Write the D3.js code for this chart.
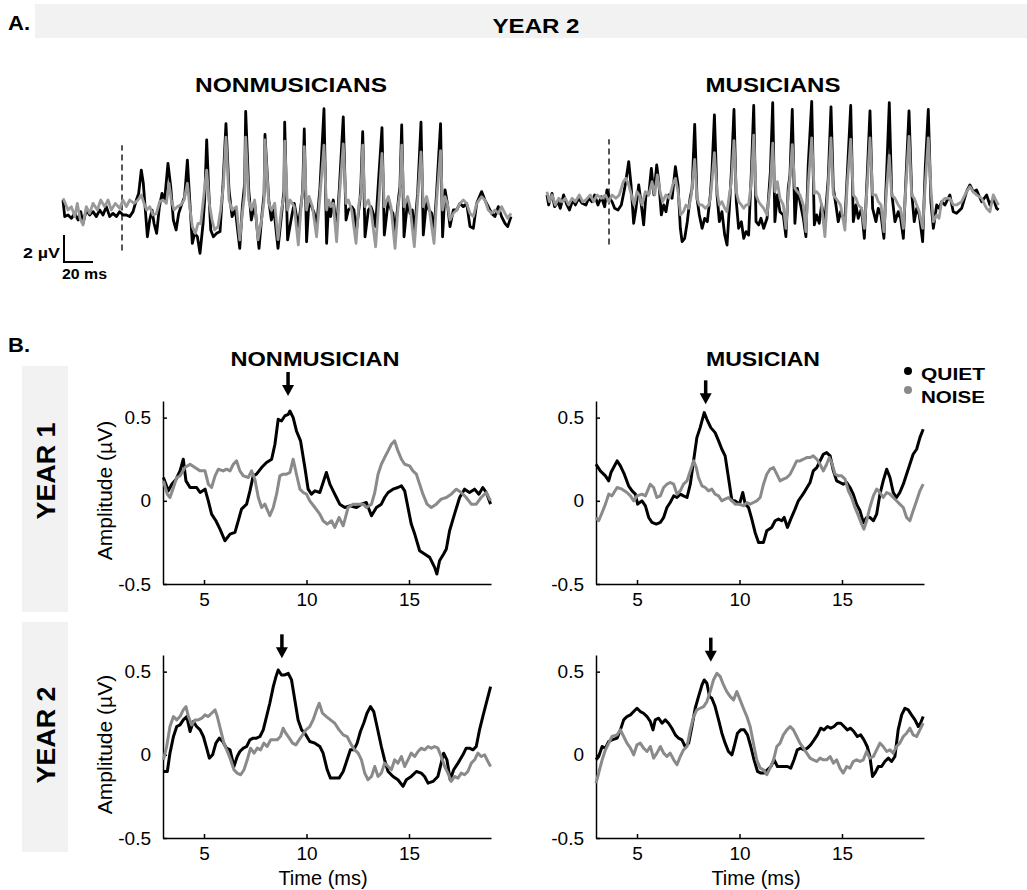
<!DOCTYPE html>
<html>
<head>
<meta charset="utf-8">
<script src="https://cdn.jsdelivr.net/npm/d3@7"></script>
<style>
  body { margin: 0; background: #fff; }
  svg { display: block; font-family: Arial, "Liberation Sans", sans-serif; }
</style>
</head>
<body>
<svg id="chart" width="1027" height="890"></svg>
<script>
// ---------- panel A: grand-average responses, [ms, uV] ----------
const nmQuietA = [[-40.7,0.74],[-39.5,-0.49],[-37.2,-0.37],[-34.9,-0.62],[-32.6,-0.25],[-30.3,-0.74],[-28.5,-0.12],[-26.9,-1.0],[-24.6,0],[-22.3,-0.37],[-20,-0.12],[-17.7,-0.49],[-15.4,0],[-13.1,-0.37],[-10.8,0.25],[-8.5,-0.49],[-6.2,-0.25],[-3.9,-0.49],[-1.6,-0.12],[0.7,-0.37],[3.0,-0.37],[5.3,-0.49],[7.6,-0.12],[9.9,0.74],[11.5,1.23],[13.3,2.96],[14.7,1.98],[16.1,0],[17.5,-1.98],[19.1,-0.74],[20.7,0],[22.1,-1.0],[23.9,-1.73],[25.8,0.25],[27.6,1.23],[29.4,0.74],[31.7,3.46],[33.6,1.73],[35.4,-0.74],[37.3,-1.48],[39.1,-0.25],[41.4,0.49],[43.2,0.99],[45.1,3.7],[46.7,0.74],[48.5,-2.47],[50.1,-1.73],[52,-1.98],[53.8,-3.21],[55.9,-1.0],[57,0.74],[58.4,5.2],
  [59.8,1.48],[61.2,-1.48],[63,-1.98],[65.3,-1.73],[67.6,-1.6],[69.7,1.98],[71.7,6.4],
  [73.8,1.48],[75.9,-0.49],[78.2,0],[81.2,-2.84],[83,0.25],[84.6,1.98],[85.3,7.3],
  [87.4,1.48],[89.2,-0.74],[91.5,0.49],[94.5,-2.84],[96.6,-0.25],[98,1.2],[98.6,5.6],
  [101.2,0.74],[103,-0.74],[104.8,0],[107.6,-2.84],[109.9,-0.49],[111.7,1.48],[112.2,6.5],
  [114.2,-2.22],[117,-0.49],[118.8,0.49],[121.6,-1.23],[123.9,0.74],[124.6,1.4],[125.7,6.0],
  [127.3,-2.35],[129,0.74],[130.8,0.25],[132.6,-0.25],[134.2,-1.23],[136.5,1.6],[139.3,7.5],
  [141.1,-2.47],[142.5,0.49],[143.9,-0.49],[145.7,0.74],[148,-1.48],[149.9,1.6],[152.6,6.9],
  [154.5,-0.74],[156.1,0],[158.4,0.25],[160,0],[161.4,-1.73],[164.1,0.74],[164.8,1.98],[166.0,5.8],
  [167.6,-1.98],[169.9,0],[171.7,0.25],[173.3,-0.25],[174.9,-1.23],[176.8,1.98],[179.3,6.1],
  [180.9,-1.85],[183.7,0.74],[185.5,0],[186.9,-0.25],[188.3,-1.73],[190.6,0.74],[191.7,1.73],[192.9,6.3],
  [194.5,-1.98],[197,0.74],[198.6,-0.25],[200.2,0],[201.6,-1.6],[203.9,1.23],[206.2,6.5],
  [207.8,-1.85],[210.1,0.74],[211.7,0],[213.6,-0.25],[215.2,-1.6],[217,1.36],[219.7,6.4],
  [221.1,-1.98],[222.8,1.48],[224.4,0.49],[226.2,-1.23],[228.5,0],[230.8,0],[233.1,0.49],[235.4,0.25],[237.7,0.49],[240,-1.23],[242.3,-1.36],[244.6,0.49],[248,1.36],[250.3,0.74],[252.6,0.25],[254.9,-0.25],[257.2,-0.49],[259.5,0.25],[261.8,-0.49],[264.1,-0.99],[266,-1.23],[268.3,-0.49]];

const nmNoiseA = [[-40.7,0.86],[-39.1,0.49],[-37.2,0],[-34.9,0.25],[-32.6,-0.49],[-30.8,0.49],[-29,-0.62],[-26.9,-1.11],[-24.6,0.25],[-22.3,-0.25],[-20,0.49],[-17,0],[-14.7,0.74],[-12,0.25],[-9.6,0.74],[-7.4,0],[-4.6,0.49],[-1.6,0.12],[0.7,0.74],[3.0,0.25],[5.3,0.74],[8.3,0.49],[11,0.74],[13.3,1.11],[15.2,0.49],[17,0],[19.1,0.25],[21.4,-0.37],[23.7,-0.25],[26,0.62],[28.3,0.74],[30.6,0.49],[32.4,1.98],[34,0.74],[35.9,0],[38.2,0.25],[40.5,0.37],[42.8,0.74],[45.1,1.98],[46.7,0.25],[48.5,-1.23],[50.6,-1.73],[52.4,-1.0],[54.3,-1.0],[56.1,0.74],[58.4,2.96],
  [60.2,0.49],[62.1,-0.74],[63.9,-1.48],[66.2,-1.23],[68,0],[69.9,1.73],[71.7,5.4],
  [73.8,0.74],[75.9,0],[78.9,0.25],[81.2,-2.22],[83,-0.25],[84.6,1.2],[85.3,5.4],
  [87.4,0.74],[89.2,0],[91.5,0.74],[93.8,-2.22],[96.6,-0.5],[98,0.74],[98.6,5.2],
  [101.2,0.5],[103,0],[105.3,0.5],[107.6,-2.2],[109.9,0],[111.7,1.0],[112.2,5.1],
  [114.2,0],[115.9,0.74],[118.8,0.25],[121.6,-2.59],[123.9,0.74],[124.8,1.48],[125.7,4.7],
  [127.3,0],[129,1.0],[131.3,0.25],[134.2,-1.98],[136.5,0.99],[139.3,4.8],
  [141.1,0],[142.5,0.74],[143.9,0.25],[145.7,0.5],[148,-2.35],[149.9,1.0],[152.6,4.9],
  [154.5,0.49],[156.1,0.74],[158.4,0],[161.4,-2.47],[163.4,0.49],[164.8,1.2],[166.0,4.8],
  [167.6,0.25],[169.9,0.74],[171.7,0],[174.9,-2.72],[177.2,0.74],[179.3,4.2],
  [180.9,0.25],[183.7,1.0],[185.5,0.25],[188.3,-2.84],[190.6,0.49],[191.7,1.2],[192.9,4.8],
  [194.5,0.25],[197,1.0],[198.6,0.25],[201.6,-2.72],[203.9,0.74],[206.2,4.3],
  [207.8,0.25],[210.1,1.0],[211.7,0.25],[215.2,-2.47],[217,0.74],[219.7,4.4],
  [221.1,0],[222.8,0.99],[224.4,0.49],[226.2,-0.74],[228.5,-0.25],[230.8,0],[233.1,0.49],[235.4,0.74],[237.7,0.49],[240,-0.25],[242.3,-0.49],[244.6,0.49],[248,0.99],[250.3,0.74],[252.6,0],[254.9,-0.25],[257.2,0],[259.5,-0.25],[261.8,0.25],[264.1,-0.25],[266,-0.62],[268.3,-0.25]];

const muQuietA = [[-42.8,0.67],[-41.6,-0.07],[-39.3,0.79],[-37.5,-0.2],[-35.2,0.17],[-33.6,-0.32],[-31.3,0.67],[-29,-0.07],[-27.3,-0.44],[-25,0.3],[-23.2,-0.07],[-20.9,0.42],[-18.6,0.05],[-15.9,-0.07],[-14,0.42],[-11.7,0.17],[-9.9,0.67],[-7.6,-0.07],[-5.3,0.54],[-3,-0.2],[-1.4,1.04],[0.5,0.42],[2.1,0.17],[3.9,-0.32],[6.2,-0.44],[8.5,-0.07],[10.8,1.16],[13.6,3.14],[15.2,1.41],[17,-1.43],[18.6,-0.32],[20.5,1.41],[22.3,-0.07],[23.9,-1.55],[25.5,0.67],[27.4,0.67],[29.2,2.64],[31,0.67],[32.9,2.89],[34.3,1.65],[36.1,-0.81],[37.7,-0.07],[39.3,-0.57],[41.2,0.67],[43.5,0.42],[45.8,2.77],[47.6,1.41],[49.2,-1.8],[50.4,-2.79],[52.2,-2.54],[54,-1.31],[55.9,0.42],[57.3,1.16],[59.1,5.9],
  [60.7,0.42],[62.3,-0.81],[64.2,-1.8],[66,-1.06],[67.8,-1.31],[69.9,0.67],[71,2.4],[72.7,6.6],
  [74.5,0.67],[76.1,-1.31],[77.9,-0.57],[79.8,-2.3],[81.4,-3.04],[83,-0.32],[84.4,2.4],[86.2,7.0],
  [87.8,0.17],[89.4,-1.8],[91.3,-1.31],[92.9,-2.54],[94.5,-2.05],[96.3,-2.3],[98.2,2.4],[99.8,7.3],
  [101.4,-1.31],[103.2,-1.55],[104.8,-1.06],[106.7,-1.8],[109,-1.06],[111.3,2.4],[112.9,7.5],
  [114.4,-1.31],[116.1,0.67],[117.9,-0.57],[120.2,-0.81],[122,-2.42],[123.6,1.16],[124.8,2.15],[126.4,7.0],
  [128.2,-1.43],[129.9,1.16],[131.7,0.17],[134,-1.06],[135.8,-2.42],[137.4,2.89],[139.8,7.6],
  [141.6,-1.55],[143.2,-0.81],[145,-1.43],[146.6,-0.07],[148.9,-1.31],[151.2,1.9],[153.1,7.2],
  [154.7,1.16],[156.5,-0.07],[158.1,-1.31],[159.7,-0.57],[162.7,-1.31],[164.3,2.15],[166.7,7.3],
  [168.5,-1.31],[170.3,-0.07],[171.9,-1.06],[174.2,-0.32],[176.1,-2.54],[178.1,2.15],[180.0,6.9],
  [181.8,-0.32],[184.1,-1.31],[185.7,-0.32],[187.6,-0.81],[189.6,-2.54],[191.5,2.4],[193.3,7.5],
  [194.9,0.91],[197.2,-1.31],[199.5,-0.57],[201.1,-1.06],[203,-2.54],[204.8,1.9],[206.9,6.9],
  [208.7,0.91],[210.5,-1.31],[212.2,-0.32],[214,-0.81],[216.3,-2.79],[218.1,2.64],[220.2,7.0],
  [222,0.17],[223.7,-1.8],[226,-0.07],[227.6,-0.32],[229.4,0.17],[231.7,-0.07],[235.1,0.67],[237.4,-0.57],[239.7,-0.69],[243.2,-0.32],[246.6,0.91],[248.9,1.41],[251.2,0.91],[253.5,1.04],[257,0.17],[260.4,0.67],[262.7,-0.07],[265,0.42],[267.3,-0.32],[268.7,-0.44]];

const muNoiseA = [[-42.8,0.91],[-41.1,0.17],[-39.3,0.67],[-37,-0.07],[-34.7,0.42],[-32.4,0.17],[-30.1,0.42],[-27.8,-0.07],[-25.5,0.42],[-23.2,0.17],[-20.5,0.67],[-18.2,0.17],[-15.9,0.3],[-12.9,0.67],[-10.6,0.17],[-8.3,0.67],[-5.3,0.42],[-2.5,0.67],[-0.2,0.17],[2.1,0.67],[4.8,0.42],[7.1,0.67],[9.9,1.65],[11.7,1.9],[13.6,1.41],[15.4,0.67],[17.3,-0.07],[19.3,0.91],[20.9,0.67],[22.8,-0.07],[25.1,0.91],[27.4,0.67],[29.7,1.65],[31.5,0.67],[33.3,2.15],[35.2,0.91],[37,0.17],[39.3,0.67],[41.6,0.42],[43.9,1.41],[45.8,1.9],[47.6,0.91],[49.4,-0.81],[51.3,-0.57],[53.1,-0.07],[55,-0.32],[56.8,0.67],[59.1,3.3],
  [60.7,0.42],[62.3,-0.07],[64.2,-0.07],[66.5,-0.32],[68.8,-0.07],[69.9,0.42],[71,1.65],[72.7,3.8],
  [74.5,0.91],[76.1,-0.07],[77.9,0.17],[79.8,-0.32],[81.4,-0.57],[83,0.67],[84.4,1.65],[86.2,4.7],
  [87.8,0.91],[89.4,0.17],[91.3,-0.07],[92.9,-0.32],[94.5,-0.07],[96.3,-0.07],[98.2,1.65],[99.8,5.1],
  [101.4,0.67],[103.2,0.17],[104.8,-0.07],[106.7,-0.32],[109,-0.81],[111.3,1.41],[112.9,4.5],
  [114.4,0.91],[116.1,1.65],[117.9,0.42],[120.2,-0.07],[122,-1.8],[123.6,0.67],[124.8,1.9],[126.4,4.4],
  [128.2,1.16],[129.9,0.91],[131.7,0.67],[134,-0.07],[135.8,-2.05],[137.4,1.41],[139.8,4.9],
  [141.6,0.79],[143.2,0.91],[145,0.67],[146.6,-0.07],[148.9,-2.42],[151.2,1.41],[153.1,4.9],
  [154.7,0.67],[156.5,0.42],[158.1,0.17],[159.7,-0.07],[162.7,-1.93],[164.3,1.41],[166.7,4.8],
  [168.5,0.67],[170.3,0.42],[171.9,-0.07],[174.2,-0.32],[176.1,-1.8],[178.1,1.41],[180.0,4.9],
  [181.8,0.67],[184.1,0.67],[185.7,0.17],[187.6,-0.07],[189.6,-2.05],[191.5,1.16],[193.3,3.6],
  [194.9,0.67],[197.2,0.42],[199.5,-0.07],[201.1,-0.32],[203,-1.8],[204.8,1.41],[206.9,5.0],
  [208.7,0.67],[210.5,0.42],[212.2,-0.07],[214,-0.57],[216.3,-1.8],[218.1,1.41],[220.2,4.9],
  [222,1.16],[223.7,-1.31],[226,-0.81],[227.6,-1.06],[229.4,0.17],[231.7,0.42],[235.1,0.42],[237.4,-0.07],[239.7,-0.07],[243.2,0.17],[246.6,0.91],[248.9,1.28],[251.2,0.91],[253.5,0.67],[257,0.42],[260.4,-0.32],[262.7,-0.57],[265,0.67],[267.3,0.17],[268.7,-0.07]];

// ---------- panel B: 3-19 ms window, [ms, uV] ----------
const nmY1Quiet = [[3.02,0.14],[3.26,0.06],[3.43,0.1],[3.64,0.13],[3.83,0.18],[3.99,0.25],[4.12,0.12],[4.32,0.08],[4.64,0.08],[4.81,0.05],[5.05,0.07],[5.21,0],[5.37,-0.08],[5.58,-0.12],[5.78,-0.17],[6.02,-0.24],[6.27,-0.2],[6.51,-0.19],[6.67,-0.12],[6.83,-0.05],[7.08,-0.02],[7.24,0.06],[7.4,0.15],[7.56,0.16],[7.81,0.2],[8.05,0.23],[8.3,0.25],[8.46,0.34],[8.62,0.49],[8.78,0.48],[8.94,0.51],[9.11,0.52],[9.19,0.54],[9.35,0.5],[9.51,0.42],[9.71,0.36],[9.92,0.2],[10.08,0.07],[10.24,0.04],[10.41,0.06],[10.65,0.05],[10.81,0.11],[10.97,0.17],[11.14,0.1],[11.3,0.06],[11.46,0.02],[11.62,-0.02],[11.87,-0.04],[12.11,-0.03],[12.44,-0.04],[12.68,-0.02],[12.92,-0.01],[13.17,-0.09],[13.41,-0.04],[13.65,-0.02],[13.81,0.02],[13.98,0.05],[14.22,0.07],[14.46,0.08],[14.63,0.09],[14.79,0.06],[14.95,-0.04],[15.11,-0.14],[15.28,-0.2],[15.52,-0.3],[15.76,-0.32],[16.01,-0.34],[16.25,-0.4],[16.36,-0.44],[16.49,-0.36],[16.69,-0.32],[16.82,-0.29],[16.98,-0.18],[17.22,-0.08],[17.47,0.02],[17.71,0.07],[17.95,0.05],[18.2,0.07],[18.41,0.04],[18.6,0.08],[18.77,0.05],[18.98,-0.02]];
const nmY1Noise = [[3.02,0.12],[3.21,0.04],[3.34,0.02],[3.51,0.08],[3.67,0.14],[3.83,0.15],[4.07,0.2],[4.32,0.22],[4.56,0.2],[4.81,0.18],[5.05,0.18],[5.21,0.1],[5.37,0.08],[5.54,0.15],[5.7,0.19],[5.94,0.18],[6.1,0.19],[6.27,0.18],[6.43,0.22],[6.59,0.24],[6.75,0.18],[6.92,0.15],[7.16,0.14],[7.32,0.18],[7.48,0.13],[7.65,0.02],[7.81,-0.04],[7.97,-0.02],[8.21,-0.09],[8.38,-0.04],[8.54,0.04],[8.7,0.15],[8.86,0.16],[9.03,0.16],[9.19,0.17],[9.35,0.25],[9.51,0.16],[9.68,0.07],[9.84,0.05],[10.0,0.04],[10.16,0],[10.41,-0.04],[10.65,-0.08],[10.81,-0.12],[11.01,-0.14],[11.22,-0.12],[11.38,-0.16],[11.59,-0.1],[11.79,-0.15],[12.03,-0.04],[12.27,-0.02],[12.52,-0.02],[12.76,-0.02],[12.92,-0.04],[13.17,-0.02],[13.33,0.05],[13.49,0.16],[13.65,0.22],[13.81,0.26],[13.98,0.3],[14.14,0.34],[14.3,0.36],[14.46,0.3],[14.63,0.25],[14.79,0.22],[15.03,0.21],[15.19,0.18],[15.36,0.16],[15.52,0.1],[15.68,0.04],[15.88,-0.02],[16.09,-0.04],[16.33,-0.02],[16.57,0.01],[16.82,0.02],[17.06,0.04],[17.31,0.07],[17.55,0.05],[17.79,0.02],[18.04,-0.02],[18.28,-0.02],[18.52,0.02],[18.77,0.05],[18.98,0]];
const muY1Quiet = [[3.0,0.22],[3.21,0.18],[3.46,0.15],[3.62,0.12],[3.73,0.17],[3.86,0.2],[4.03,0.24],[4.19,0.21],[4.38,0.16],[4.59,0.09],[4.76,0.06],[4.92,0.04],[5.03,-0.02],[5.24,0],[5.41,-0.03],[5.57,-0.1],[5.73,-0.13],[5.94,-0.14],[6.14,-0.13],[6.3,-0.1],[6.46,-0.04],[6.62,-0.01],[6.79,0.03],[6.95,0.02],[7.11,0.04],[7.27,0.03],[7.44,0.02],[7.6,0.1],[7.76,0.24],[7.92,0.38],[8.08,0.44],[8.28,0.53],[8.41,0.49],[8.6,0.44],[8.81,0.41],[8.98,0.36],[9.14,0.31],[9.3,0.27],[9.46,0.14],[9.63,0],[9.79,0],[10.0,-0.02],[10.16,0.05],[10.28,-0.02],[10.44,-0.04],[10.6,-0.11],[10.76,-0.19],[10.93,-0.25],[11.17,-0.25],[11.33,-0.18],[11.57,-0.16],[11.74,-0.12],[11.9,-0.11],[12.06,-0.12],[12.18,-0.1],[12.34,-0.16],[12.5,-0.11],[12.71,-0.05],[12.87,0],[13.04,0.03],[13.2,0.06],[13.44,0.11],[13.6,0.18],[13.77,0.2],[13.93,0.24],[14.09,0.28],[14.25,0.29],[14.42,0.27],[14.58,0.18],[14.74,0.12],[14.9,0.11],[15.06,0.1],[15.23,0.11],[15.39,0.08],[15.55,0.04],[15.71,-0.02],[15.88,-0.06],[16.04,-0.13],[16.2,-0.1],[16.36,-0.1],[16.53,-0.12],[16.69,-0.08],[16.85,0.04],[17.01,0.12],[17.18,0.19],[17.34,0.14],[17.5,0.05],[17.66,0.02],[17.82,0.05],[17.99,0.1],[18.15,0.16],[18.31,0.22],[18.47,0.28],[18.64,0.31],[18.8,0.38],[18.96,0.43]];
const muY1Noise = [[3.0,-0.1],[3.13,-0.12],[3.3,-0.07],[3.46,-0.02],[3.62,0.04],[3.78,0.03],[4.03,0.08],[4.27,0.07],[4.51,0.05],[4.68,0.03],[4.84,0],[5.0,0.03],[5.24,0.04],[5.41,0.03],[5.65,0.1],[5.81,0.08],[5.97,0.02],[6.14,0.03],[6.3,0.08],[6.46,0.1],[6.62,0.11],[6.79,0.1],[6.95,0.04],[7.11,0.06],[7.27,0.1],[7.44,0.12],[7.6,0.18],[7.76,0.24],[7.89,0.2],[8.0,0.14],[8.17,0.09],[8.33,0.08],[8.49,0.06],[8.65,0.07],[8.81,0.04],[8.98,0.03],[9.14,0],[9.3,0.01],[9.46,0.02],[9.63,0],[9.79,-0.02],[10.0,-0.02],[10.19,-0.03],[10.36,-0.01],[10.52,-0.02],[10.68,-0.01],[10.84,0],[11.01,0.02],[11.17,0.1],[11.33,0.16],[11.49,0.19],[11.66,0.2],[11.82,0.16],[11.98,0.12],[12.14,0.13],[12.31,0.14],[12.47,0.16],[12.63,0.2],[12.79,0.24],[12.95,0.24],[13.12,0.25],[13.28,0.26],[13.44,0.26],[13.6,0.27],[13.77,0.25],[13.93,0.22],[14.09,0.18],[14.25,0.22],[14.38,0.26],[14.5,0.23],[14.66,0.16],[14.82,0.15],[14.98,0.15],[15.15,0.13],[15.31,0.06],[15.47,0.02],[15.63,-0.04],[15.8,-0.09],[15.96,-0.14],[16.07,-0.17],[16.2,-0.12],[16.36,-0.04],[16.53,0.03],[16.69,0.07],[16.85,0.05],[17.01,0.02],[17.18,0.05],[17.34,0.04],[17.5,0.02],[17.66,0],[17.82,-0.02],[17.99,-0.04],[18.15,-0.1],[18.31,-0.12],[18.47,-0.06],[18.64,0],[18.8,0.06],[18.96,0.1]];
const nmY2Quiet = [[3.02,-0.1],[3.21,-0.1],[3.34,0.01],[3.51,0.11],[3.67,0.17],[3.83,0.18],[3.99,0.21],[4.16,0.23],[4.32,0.14],[4.48,0.2],[4.64,0.17],[4.81,0.15],[4.97,0.11],[5.13,0.04],[5.26,-0.02],[5.42,0],[5.58,0.07],[5.75,0.1],[5.91,0.08],[6.1,0.04],[6.27,0.03],[6.46,-0.07],[6.62,-0.01],[6.75,0.02],[6.92,0.04],[7.08,0.05],[7.24,0.09],[7.4,0.1],[7.56,0.1],[7.73,0.11],[7.89,0.15],[8.05,0.23],[8.21,0.31],[8.38,0.41],[8.51,0.47],[8.62,0.51],[8.78,0.48],[8.94,0.48],[9.11,0.49],[9.27,0.45],[9.43,0.33],[9.59,0.21],[9.76,0.15],[9.92,0.13],[10.16,0.08],[10.41,0.07],[10.65,0.05],[10.81,0.01],[11.01,-0.09],[11.17,-0.14],[11.38,-0.14],[11.59,-0.14],[11.79,-0.1],[11.98,-0.03],[12.14,0.03],[12.31,0.03],[12.47,0.07],[12.63,0.14],[12.79,0.19],[12.95,0.25],[13.12,0.29],[13.28,0.26],[13.44,0.17],[13.65,0.05],[13.81,-0.03],[13.98,-0.1],[14.22,-0.13],[14.46,-0.15],[14.71,-0.19],[14.87,-0.15],[15.11,-0.13],[15.36,-0.1],[15.6,-0.11],[15.76,-0.13],[15.93,-0.17],[16.17,-0.16],[16.41,-0.13],[16.57,-0.05],[16.69,0.01],[16.85,-0.03],[17.01,-0.15],[17.18,-0.09],[17.39,-0.05],[17.63,0],[17.79,0.04],[17.95,0.04],[18.12,0.03],[18.28,0.05],[18.44,0.15],[18.6,0.23],[18.77,0.31],[18.98,0.41]];
const nmY2Noise = [[3.02,-0.03],[3.18,0.05],[3.34,0.17],[3.51,0.23],[3.67,0.21],[3.83,0.23],[3.99,0.27],[4.12,0.29],[4.24,0.23],[4.4,0.18],[4.56,0.21],[4.72,0.21],[4.89,0.22],[5.05,0.24],[5.21,0.23],[5.37,0.25],[5.54,0.27],[5.65,0.23],[5.81,0.15],[5.97,0.07],[6.14,0.02],[6.3,-0.03],[6.46,-0.09],[6.62,-0.11],[6.79,-0.12],[6.95,-0.09],[7.11,-0.03],[7.27,0.04],[7.44,0.01],[7.6,0.04],[7.76,0.03],[7.92,0.07],[8.08,0.05],[8.25,0.09],[8.41,0.09],[8.57,0.09],[8.73,0.11],[8.86,0.16],[8.99,0.13],[9.16,0.1],[9.32,0.07],[9.48,0.06],[9.64,0.09],[9.81,0.12],[9.97,0.15],[10.16,0.17],[10.32,0.21],[10.49,0.27],[10.62,0.31],[10.78,0.25],[10.97,0.23],[11.17,0.21],[11.38,0.19],[11.59,0.15],[11.79,0.12],[11.98,0.11],[12.19,0.06],[12.35,0.03],[12.52,0.01],[12.68,-0.03],[12.84,-0.11],[13.0,-0.15],[13.17,-0.13],[13.33,-0.07],[13.49,-0.13],[13.65,-0.11],[13.81,-0.05],[13.98,-0.07],[14.14,-0.09],[14.3,-0.03],[14.46,-0.05],[14.63,-0.01],[14.79,-0.07],[14.95,-0.03],[15.11,0.01],[15.28,-0.01],[15.44,0.02],[15.6,0.04],[15.76,0.03],[15.93,0.05],[16.09,0.04],[16.25,0.05],[16.41,0.04],[16.57,-0.01],[16.74,-0.07],[16.9,-0.11],[17.06,-0.16],[17.22,-0.13],[17.39,-0.14],[17.55,-0.11],[17.71,-0.12],[17.87,-0.1],[18.04,-0.05],[18.2,-0.03],[18.36,0.01],[18.52,-0.01],[18.69,0],[18.85,-0.04],[18.98,-0.07]];
const muY2Quiet = [[3.0,-0.03],[3.13,-0.01],[3.3,0.05],[3.46,0.04],[3.62,0.08],[3.78,0.09],[4.03,0.1],[4.19,0.15],[4.35,0.21],[4.51,0.23],[4.68,0.24],[4.84,0.26],[5.0,0.28],[5.16,0.26],[5.32,0.25],[5.49,0.23],[5.65,0.2],[5.78,0.15],[5.89,0.21],[6.06,0.22],[6.22,0.19],[6.38,0.21],[6.54,0.19],[6.7,0.16],[6.87,0.12],[7.03,0.1],[7.19,0.09],[7.35,0.05],[7.52,0.07],[7.68,0.17],[7.84,0.28],[8.0,0.35],[8.17,0.42],[8.28,0.45],[8.41,0.43],[8.54,0.35],[8.65,0.34],[8.81,0.29],[8.98,0.21],[9.14,0.13],[9.3,0.07],[9.46,0.02],[9.63,0],[9.74,0.05],[9.9,0.13],[10.06,0.15],[10.23,0.15],[10.39,0.12],[10.55,0.05],[10.71,-0.03],[10.88,-0.1],[11.04,-0.11],[11.2,-0.11],[11.36,-0.09],[11.53,-0.07],[11.69,-0.03],[11.85,-0.07],[12.01,-0.07],[12.18,-0.07],[12.34,-0.07],[12.5,-0.08],[12.66,-0.03],[12.82,0.03],[12.99,0.04],[13.15,0.03],[13.31,0.04],[13.47,0.06],[13.64,0.09],[13.8,0.12],[13.96,0.16],[14.12,0.15],[14.29,0.17],[14.45,0.16],[14.61,0.17],[14.77,0.19],[14.94,0.19],[15.1,0.17],[15.26,0.15],[15.42,0.16],[15.58,0.14],[15.75,0.11],[15.91,0.12],[16.07,0.09],[16.23,0.05],[16.36,-0.01],[16.49,-0.13],[16.61,-0.11],[16.77,-0.07],[16.93,-0.07],[17.09,-0.04],[17.26,-0.02],[17.42,-0.04],[17.58,-0.01],[17.74,0.15],[17.91,0.24],[18.07,0.28],[18.23,0.27],[18.39,0.24],[18.56,0.21],[18.72,0.17],[18.83,0.19],[18.96,0.23]];
const muY2Noise = [[3.0,-0.17],[3.13,-0.11],[3.3,-0.03],[3.46,0.03],[3.62,0.07],[3.78,0.11],[4.03,0.12],[4.19,0.15],[4.35,0.11],[4.51,0.07],[4.68,0.04],[4.84,0],[5.0,0.06],[5.16,0.07],[5.32,0.04],[5.49,0.02],[5.65,0.05],[5.81,-0.02],[5.97,0.01],[6.14,0.05],[6.3,0.01],[6.46,-0.01],[6.62,0.01],[6.79,-0.03],[6.95,-0.06],[7.11,-0.01],[7.27,0.03],[7.44,0.05],[7.6,0.15],[7.76,0.23],[7.92,0.27],[8.08,0.28],[8.25,0.29],[8.41,0.32],[8.57,0.38],[8.73,0.45],[8.9,0.49],[9.06,0.47],[9.22,0.42],[9.38,0.38],[9.55,0.35],[9.71,0.33],[9.87,0.38],[10.03,0.33],[10.19,0.28],[10.36,0.23],[10.52,0.17],[10.68,0.07],[10.84,-0.03],[11.01,-0.08],[11.17,-0.09],[11.33,-0.12],[11.49,-0.08],[11.66,-0.03],[11.82,0.05],[11.98,0.07],[12.14,0.12],[12.31,0.15],[12.47,0.17],[12.63,0.15],[12.79,0.11],[12.95,0.07],[13.12,0.04],[13.28,0.01],[13.44,-0.02],[13.6,-0.03],[13.77,-0.04],[13.93,-0.02],[14.09,-0.03],[14.25,-0.03],[14.42,-0.01],[14.58,-0.05],[14.74,-0.03],[14.9,-0.08],[15.06,-0.11],[15.23,-0.07],[15.39,-0.08],[15.55,-0.04],[15.71,-0.03],[15.88,-0.04],[16.04,-0.03],[16.2,0.02],[16.36,-0.02],[16.53,-0.01],[16.69,0.03],[16.85,0.07],[17.01,0.05],[17.18,0.02],[17.34,0.03],[17.5,0.01],[17.66,0.05],[17.82,0.07],[17.99,0.11],[18.15,0.13],[18.31,0.16],[18.47,0.12],[18.64,0.11],[18.8,0.15],[18.96,0.19]];

// peak markers (ms, uV at arrow tip): NM y1, M y1, NM y2, M y2
const peakArrows = [[9.1, 0.63], [8.35, 0.58], [8.8, 0.58], [8.6, 0.56]];

const timeTicks = [5, 10, 15];
const ampTicks = [-0.5, 0, 0.5];
const ampTickLabels = ["-0.5", "0", "0.5"];
const groups = ["NONMUSICIAN", "MUSICIAN"];
const years = ["YEAR 1", "YEAR 2"];
const conditions = ["QUIET", "NOISE"];

const BLACK = "#000";
const GREY_A = "#999";
const GREY_B = "#8a8a8a";

const svg = d3.select("#chart");

// ---------------- Panel A ----------------
svg.append("rect").attr("x", 35).attr("y", 4).attr("width", 992).attr("height", 34).attr("fill", "#f2f2f2");
svg.append("text").attr("x", 8).attr("y", 30).attr("font-size", 21).attr("font-weight", "bold")
  .attr("textLength", 22).attr("lengthAdjust", "spacingAndGlyphs").text("A.");
svg.append("text").attr("x", 536).attr("y", 33).attr("text-anchor", "middle").attr("font-size", 21)
  .attr("font-weight", "bold").attr("textLength", 87).attr("lengthAdjust", "spacingAndGlyphs").text("YEAR 2");

const waveCols = [
  { title: groups[0] + "S", tx: 291, tw: 192, x0: 61.1, y0: 210, quiet: nmQuietA, noise: nmNoiseA },
  { title: groups[1] + "S", tx: 773, tw: 135, x0: 548.1, y0: 204, quiet: muQuietA, noise: muNoiseA }
];

let xLeftA, yLeftA;
waveCols.forEach((c, i) => {
  const x = d3.scaleLinear().domain([-42, 270]).range([c.x0, c.x0 + 452.4]);
  const y = d3.scaleLinear().domain([-4, 8]).range([c.y0 + 54, c.y0 - 108]);
  if (i === 0) { xLeftA = x; yLeftA = y; }
  const line = d3.line().x(d => x(d[0])).y(d => y(d[1]));

  svg.append("text").attr("x", c.tx).attr("y", 92).attr("text-anchor", "middle").attr("font-size", 21)
    .attr("font-weight", "bold").attr("textLength", c.tw).attr("lengthAdjust", "spacingAndGlyphs").text(c.title);

  svg.append("line").attr("x1", x(0)).attr("x2", x(0)).attr("y1", y(-3)).attr("y2", y(4.8))
    .attr("stroke", "#555").attr("stroke-width", 2).attr("stroke-dasharray", "6,4");

  svg.append("path").datum(c.quiet).attr("d", line).attr("fill", "none")
    .attr("stroke", BLACK).attr("stroke-width", 2.8).attr("stroke-linejoin", "round");
  svg.append("path").datum(c.noise).attr("d", line).attr("fill", "none")
    .attr("stroke", GREY_A).attr("stroke-width", 2.8).attr("stroke-linejoin", "round");
});

// scale bar: 20 ms x 2 uV
const sb = svg.append("g");
sb.append("path")
  .attr("d", `M${xLeftA(-40)},${yLeftA(-1.85)}V${yLeftA(-3.85)}H${xLeftA(-20)}`)
  .attr("fill", "none").attr("stroke", BLACK).attr("stroke-width", 2);
sb.append("text").attr("x", 60).attr("y", 258).attr("text-anchor", "end").attr("font-size", 14)
  .attr("font-weight", "bold").attr("textLength", 37).attr("lengthAdjust", "spacingAndGlyphs").text("2 µV");
sb.append("text").attr("x", 62).attr("y", 279).attr("font-size", 14)
  .attr("font-weight", "bold").attr("textLength", 45).attr("lengthAdjust", "spacingAndGlyphs").text("20 ms");

// ---------------- Panel B ----------------
svg.append("text").attr("x", 8).attr("y", 352).attr("font-size", 21).attr("font-weight", "bold")
  .attr("textLength", 22).attr("lengthAdjust", "spacingAndGlyphs").text("B.");

const colX = [[163, 491], [596, 924]];
const rowY = [[584, 401], [838, 655]];
const titleX = [315, 763], titleW = [169, 114];

groups.forEach((g, i) => {
  svg.append("text").attr("x", titleX[i]).attr("y", 366).attr("text-anchor", "middle").attr("font-size", 21)
    .attr("font-weight", "bold").attr("textLength", titleW[i]).attr("lengthAdjust", "spacingAndGlyphs").text(g);
});

const rowBox = [[366, 246, 471], [622, 230, 735]];
years.forEach((yr, r) => {
  svg.append("rect").attr("x", 22).attr("y", rowBox[r][0]).attr("width", 46).attr("height", rowBox[r][1]).attr("fill", "#f2f2f2");
  svg.append("text").attr("transform", `translate(55,${rowBox[r][2]}) rotate(-90)`).attr("text-anchor", "middle")
    .attr("font-size", 25).attr("font-weight", "bold").attr("textLength", 97).attr("lengthAdjust", "spacingAndGlyphs").text(yr);
});

const bPanels = [
  { r: 0, c: 0, quiet: nmY1Quiet, noise: nmY1Noise, arrow: peakArrows[0] },
  { r: 0, c: 1, quiet: muY1Quiet, noise: muY1Noise, arrow: peakArrows[1] },
  { r: 1, c: 0, quiet: nmY2Quiet, noise: nmY2Noise, arrow: peakArrows[2] },
  { r: 1, c: 1, quiet: muY2Quiet, noise: muY2Noise, arrow: peakArrows[3] }
];

bPanels.forEach(p => {
  const x = d3.scaleLinear().domain([3, 19]).range(colX[p.c]);
  const y = d3.scaleLinear().domain([-0.5, 0.6]).range(rowY[p.r]);
  const g = svg.append("g");

  const ax = g.append("g").attr("transform", `translate(0,${y(-0.5)})`)
    .call(d3.axisBottom(x).tickValues(timeTicks).tickSize(-4).tickSizeOuter(0).tickPadding(9).tickFormat(d3.format("d")));
  const ay = g.append("g").attr("transform", `translate(${x(3)},0)`)
    .call(d3.axisLeft(y).tickValues(ampTicks).tickSize(-4).tickSizeOuter(0).tickPadding(12)
      .tickFormat((d, i) => ampTickLabels[i]));
  [ax, ay].forEach(a => {
    a.selectAll("path, line").attr("stroke", BLACK).attr("stroke-width", 1.5);
    a.selectAll("text").attr("font-size", 19).attr("fill", BLACK).attr("font-family", "Arial, 'Liberation Sans', sans-serif");
  });

  const line = d3.line().x(d => x(d[0])).y(d => y(d[1]));
  g.append("path").datum(p.quiet).attr("d", line).attr("fill", "none")
    .attr("stroke", BLACK).attr("stroke-width", 3).attr("stroke-linejoin", "round");
  g.append("path").datum(p.noise).attr("d", line).attr("fill", "none")
    .attr("stroke", GREY_B).attr("stroke-width", 3).attr("stroke-linejoin", "round");

  // peak arrow
  const ax0 = x(p.arrow[0]), tip = y(p.arrow[1]);
  g.append("line").attr("x1", ax0).attr("x2", ax0).attr("y1", tip - 24).attr("y2", tip - 9)
    .attr("stroke", BLACK).attr("stroke-width", 3.5);
  g.append("path").attr("d", `M${ax0 - 6},${tip - 11}L${ax0 + 6},${tip - 11}L${ax0},${tip}Z`).attr("fill", BLACK);

  if (p.c === 0) {
    g.append("text").attr("transform", `translate(112,${(rowY[p.r][0] + rowY[p.r][1]) / 2 - 2}) rotate(-90)`)
      .attr("text-anchor", "middle").attr("font-size", 21).text("Amplitude (µV)");
  }
  if (p.r === 1) {
    g.append("text").attr("x", (colX[p.c][0] + colX[p.c][1]) / 2 - 4).attr("y", 885)
      .attr("text-anchor", "middle").attr("font-size", 20).text("Time (ms)");
  }
});

// legend
const legend = svg.append("g");
conditions.forEach((cnd, i) => {
  legend.append("circle").attr("cx", 908).attr("cy", 371 + i * 19).attr("r", 4)
    .attr("fill", i === 0 ? BLACK : GREY_B);
  legend.append("text").attr("x", 921).attr("y", 380 + i * 23).attr("font-size", 17)
    .attr("font-weight", "bold").attr("textLength", 64).attr("lengthAdjust", "spacingAndGlyphs").text(cnd);
});
</script>
</body>
</html>
